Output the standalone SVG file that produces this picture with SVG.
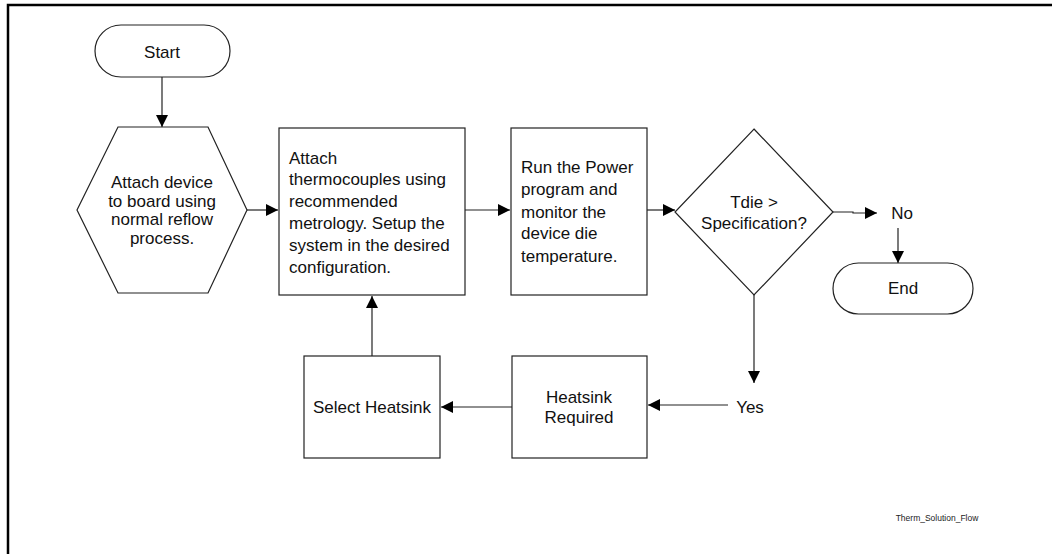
<svg xmlns="http://www.w3.org/2000/svg" width="1052" height="554" viewBox="0 0 1052 554">
<defs>
<marker id="ah" markerWidth="12" markerHeight="12" refX="12" refY="6" orient="auto" markerUnits="userSpaceOnUse">
<path d="M0,0 L12,6 L0,12 Z" fill="#000"/>
</marker>
<style>
.s{fill:#fff;stroke:#222;stroke-width:1.2}
.t{font-family:"Liberation Sans",Arial,sans-serif;font-size:17px;fill:#111}
.c{text-anchor:middle}
.l{fill:none;stroke:#222;stroke-width:1.2;marker-end:url(#ah)}
</style>
</defs>
<rect width="1052" height="554" fill="#fff"/>
<path d="M8,554 L8,5 L1052,5" fill="none" stroke="#000" stroke-width="2.5"/>
<g id="connectors">
<line class="l" x1="162" y1="77" x2="162" y2="127"/>
<line class="l" x1="247" y1="210" x2="278" y2="210"/>
<line class="l" x1="465" y1="210" x2="510" y2="210"/>
<line class="l" x1="647" y1="210" x2="675" y2="210"/>
<polyline class="l" points="833,212 853,212 853,213 877,213"/>
<line class="l" x1="898" y1="228" x2="898" y2="263"/>
<line class="l" x1="754" y1="295" x2="754" y2="383"/>
<line class="l" x1="728" y1="405" x2="648" y2="405"/>
<line class="l" x1="512" y1="407" x2="441" y2="407"/>
<line class="l" x1="372" y1="356" x2="372" y2="296"/>
</g>
<g id="start">
<rect class="s" x="95" y="25" width="135" height="52" rx="26"/>
<text class="t c" x="162" y="58">Start</text>
</g>
<g id="attach-device">
<polygon class="s" points="118,127 208,127 247,210 208,293 118,293 77,210"/>
<text class="t c"><tspan x="162" y="188">Attach device</tspan><tspan x="162" y="207">to board using</tspan><tspan x="162" y="225">normal reflow</tspan><tspan x="162" y="244">process.</tspan></text>
</g>
<g id="attach-thermocouples">
<rect class="s" x="279" y="128" width="186" height="167"/>
<text class="t"><tspan x="289" y="164">Attach</tspan><tspan x="289" y="185">thermocouples using</tspan><tspan x="289" y="207">recommended</tspan><tspan x="289" y="229">metrology. Setup the</tspan><tspan x="289" y="251">system in the desired</tspan><tspan x="289" y="273">configuration.</tspan></text>
</g>
<g id="run-power">
<rect class="s" x="511" y="128" width="136" height="167"/>
<text class="t"><tspan x="521" y="173">Run the Power</tspan><tspan x="521" y="195">program and</tspan><tspan x="521" y="218">monitor the</tspan><tspan x="521" y="239">device die</tspan><tspan x="521" y="262">temperature.</tspan></text>
</g>
<g id="decision">
<polygon class="s" points="754,129 833,212 754,295 675,212"/>
<text class="t c"><tspan x="754" y="208">Tdie &gt;</tspan><tspan x="754" y="229">Specification?</tspan></text>
</g>
<g id="no">
<text class="t c" x="902" y="219">No</text>
</g>
<g id="end">
<rect class="s" x="833" y="263" width="140" height="51" rx="25.5"/>
<text class="t c" x="903" y="294">End</text>
</g>
<g id="yes">
<text class="t c" x="750" y="413">Yes</text>
</g>
<g id="heatsink-required">
<rect class="s" x="512" y="356" width="135" height="102"/>
<text class="t c"><tspan x="579" y="403">Heatsink</tspan><tspan x="579" y="423">Required</tspan></text>
</g>
<g id="select-heatsink">
<rect class="s" x="304" y="356" width="136" height="102"/>
<text class="t c" x="372" y="413">Select Heatsink</text>
</g>
<g id="caption">
<text font-family="'Liberation Sans',Arial,sans-serif" font-size="8.5" fill="#222" text-anchor="middle" x="937" y="521">Therm_Solution_Flow</text>
</g>
</svg>
